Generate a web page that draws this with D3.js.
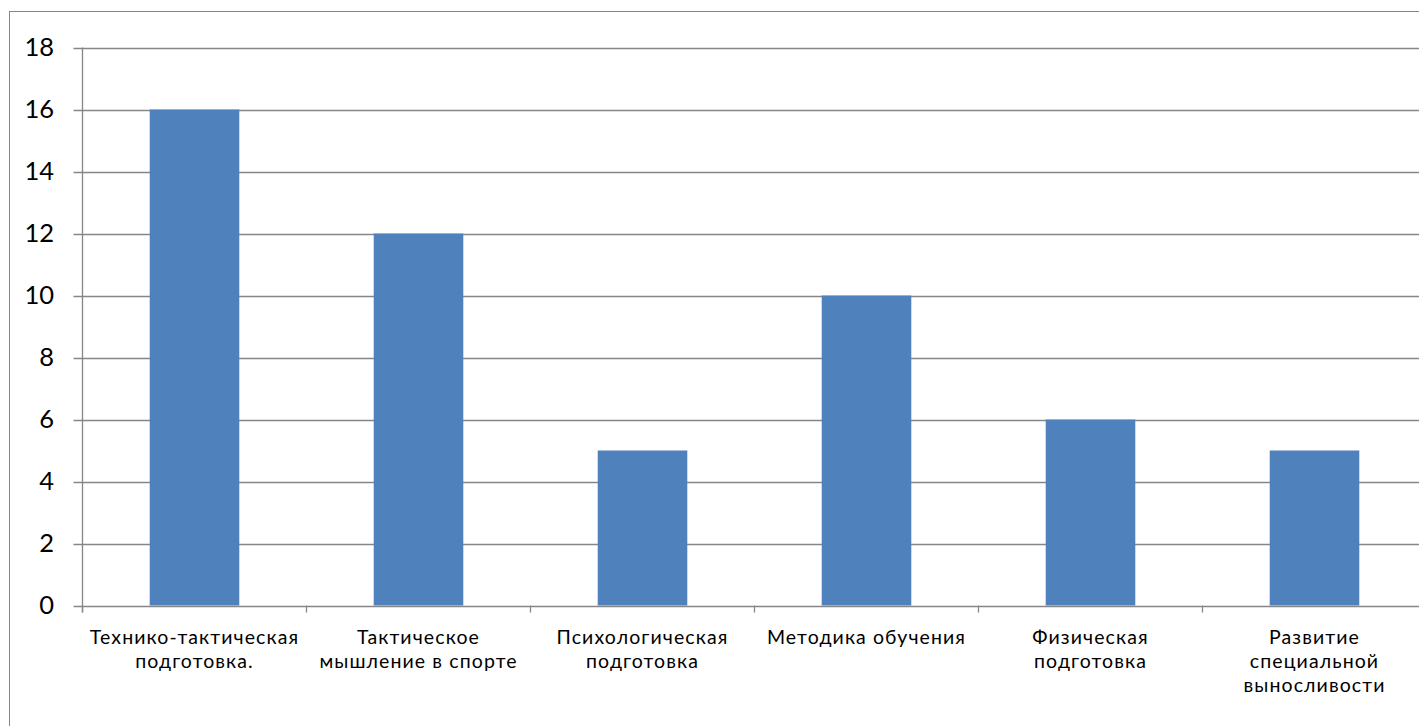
<!DOCTYPE html>
<html><head><meta charset="utf-8">
<script src="https://cdn.jsdelivr.net/npm/d3@7"></script>
<style>html,body{margin:0;padding:0;background:#fff;overflow:hidden}</style>
</head><body>
<script>
const categories = [
  "Технико-тактическая\nподготовка.",
  "Тактическое\nмышление в спорте",
  "Психологическая\nподготовка",
  "Методика обучения",
  "Физическая\nподготовка",
  "Развитие\nспециальной\nвыносливости"
];
const values = [16, 12, 5, 10, 6, 5];
const yTicks = [0, 2, 4, 6, 8, 10, 12, 14, 16, 18];

const W = 1419, H = 726;
const plotLeft = 82.5, plotTop = 47.5, plotBottom = 605.5;
const step = 224;
const plotRight = plotLeft + step * categories.length;
const font = "Lato, 'Open Sans', sans-serif";
const grey = "#868686";

const svg = d3.select("body").append("svg").attr("width", W).attr("height", H);

// outer chart border
svg.append("rect").attr("x", 9.5).attr("y", 11.5).attr("width", 1500).attr("height", 800)
  .attr("fill", "none").attr("stroke", grey).attr("stroke-width", 1);

const x = d3.scaleBand().domain(categories).range([plotLeft, plotRight]).paddingInner(0.6).paddingOuter(0.3);
const y = d3.scaleLinear().domain([0, 18]).range([plotBottom, plotTop]);

// gridlines
svg.append("g").selectAll("line").data(yTicks).join("line")
  .attr("x1", plotLeft - 9).attr("x2", plotRight)
  .attr("y1", d => Math.round(y(d)) + 0.5).attr("y2", d => Math.round(y(d)) + 0.5)
  .attr("stroke", grey).attr("stroke-width", 1.3);

// bars
svg.append("g").selectAll("rect").data(values).join("rect")
  .attr("x", (d, i) => x(categories[i]))
  .attr("width", x.bandwidth())
  .attr("y", d => y(d))
  .attr("height", d => y(0) - y(d))
  .attr("fill", "#4F81BD");

// y axis line
svg.append("line").attr("x1", plotLeft).attr("x2", plotLeft).attr("y1", plotTop).attr("y2", plotBottom + 7)
  .attr("stroke", grey).attr("stroke-width", 1.3);

// x axis category ticks
const tickX = d3.range(categories.length + 1).map(i => plotLeft + i * step);
svg.append("g").selectAll("line").data(tickX).join("line")
  .attr("x1", d => d).attr("x2", d => d).attr("y1", plotBottom).attr("y2", plotBottom + 7)
  .attr("stroke", grey).attr("stroke-width", 1.3);

// y labels
svg.append("g").selectAll("text").data(yTicks).join("text")
  .attr("x", 54).attr("y", d => y(d)).attr("dy", "0.35em")
  .attr("text-anchor", "end").attr("font-family", font).attr("font-size", 25.5)
  .attr("fill", "#000").text(d => d);

// x labels
const lg = svg.append("g");
categories.forEach((c, i) => {
  const cx = x(c) + x.bandwidth() / 2;
  c.split("\n").forEach((line, j) => {
    lg.append("text").attr("x", cx).attr("y", 637 + j * 24).attr("dy", "0.35em")
      .attr("text-anchor", "middle").attr("font-family", font).attr("font-size", 19.5)
      .attr("letter-spacing", 1.1)
      .attr("fill", "#000").text(line);
  });
});
</script>
</body></html>
